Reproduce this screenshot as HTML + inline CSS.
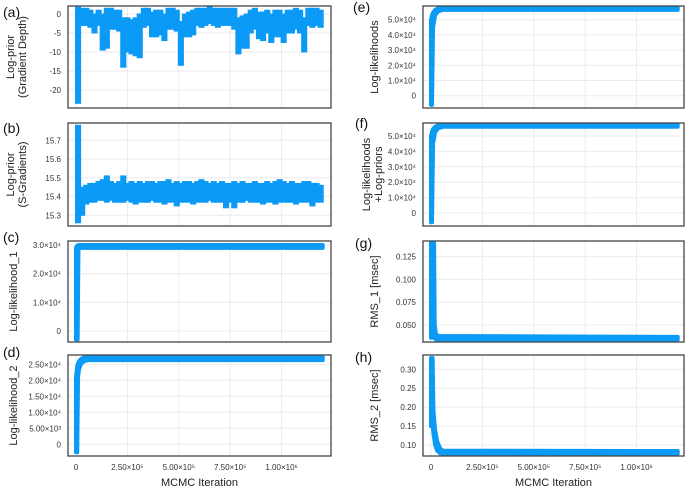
<!DOCTYPE html>
<html><head><meta charset="utf-8"><style>
html,body{margin:0;padding:0;background:#fff;width:685px;height:488px;overflow:hidden}
svg{display:block;font-family:"Liberation Sans","DejaVu Sans",sans-serif}
</style></head><body>
<svg id="fig" width="685" height="488" viewBox="0 0 685 488" xmlns="http://www.w3.org/2000/svg"></svg>
<script>
// ---- data ----
const xTickVals = [0, 250000, 500000, 750000, 1000000];
const xTickLabels = ["0", "2.50×10⁵", "5.00×10⁵", "7.50×10⁵", "1.00×10⁶"];
const binWidth = 20000;
const aLo = [-23.5,-3,-3,-3.5,-5,-3,-9.5,-9,-4,-4,-4.5,-14,-10,-10.5,-11,-11.5,-3.5,-3,-6,-6,-5.5,-7,-4,-4,-4.5,-13.5,-6,-6,-5.5,-3,-3.5,-3,-2.5,-3,-3.5,-3,-3,-3,-4,-10.5,-9,-9,-5,-4,-6.5,-7,-5,-7.5,-6,-6,-7.5,-5,-5,-4,-5,-10,-3,-3.5,-3,-3.5];
const aHi = [1.8,1.5,1.5,1,0,1,0,1.5,1.5,1,1,-1,-1,-1.5,-1,0,1.5,1.5,0.5,1,1,0,1.5,1.5,1,-2,0,0.5,1,1.5,1.5,1.5,2,1.5,1.5,1.5,1.5,1.5,1.5,-1,-0.5,0,1,1.5,0.5,0.5,1,0,1,1,0,1,1,1.5,1,-1,1.5,1.5,1.5,1];
const bLo = [15.26,15.30,15.36,15.37,15.37,15.38,15.38,15.37,15.38,15.37,15.37,15.37,15.38,15.37,15.36,15.37,15.37,15.37,15.38,15.37,15.37,15.36,15.37,15.37,15.35,15.37,15.37,15.37,15.36,15.37,15.37,15.37,15.38,15.37,15.37,15.37,15.34,15.37,15.34,15.37,15.37,15.38,15.37,15.37,15.37,15.36,15.37,15.37,15.36,15.37,15.37,15.37,15.37,15.36,15.37,15.37,15.37,15.35,15.37,15.37];
const bHi = [15.78,15.45,15.46,15.47,15.47,15.48,15.49,15.51,15.48,15.47,15.48,15.51,15.47,15.48,15.47,15.48,15.47,15.48,15.48,15.47,15.48,15.48,15.49,15.47,15.48,15.47,15.48,15.48,15.47,15.48,15.49,15.48,15.47,15.48,15.47,15.48,15.47,15.47,15.48,15.47,15.48,15.47,15.47,15.48,15.47,15.47,15.48,15.47,15.48,15.49,15.48,15.47,15.48,15.47,15.47,15.48,15.48,15.47,15.47,15.46];
const cIter = [0,4000,8000,12000,20000,1200000];
const cHi = [29000,29600,29800,30000,30000,30000];
const cLo = [-3000,-3000,-3000,28800,29000,29000];
const dIter = [0,6000,10000,15000,25000,40000,60000,1200000];
const dHi = [21000,24500,25300,26000,26700,27200,27300,27300];
const dLo = [-2500,-2500,21000,23500,25200,26000,26300,26300];
const eIter = [0,5000,10000,20000,35000,60000,1200000];
const eHi = [50000,53000,54500,56500,57500,58000,58000];
const eLo = [-6000,-6000,45000,53000,55500,56500,56500];
const fIter = [0,5000,10000,20000,35000,60000,1200000];
const fHi = [50000,53000,54500,56000,57000,57500,57500];
const fLo = [-6000,-6000,45000,52500,55000,56000,56000];
const gIter = [0,15000,18000,25000,40000,1200000];
const gHi = [0.14,0.14,0.05,0.039,0.038,0.037];
const gLo = [0.036,0.036,0.036,0.034,0.034,0.034];
const hIter = [0,8000,12000,20000,30000,45000,60000,1200000];
const hHi = [0.33,0.33,0.19,0.14,0.11,0.09,0.085,0.084];
const hLo = [0.15,0.15,0.13,0.10,0.085,0.078,0.077,0.077];
const aTicks=[0,-5,-10,-15,-20], aTickLabels=["0","-5","-10","-15","-20"];
const bTicks=[15.7,15.6,15.5,15.4,15.3], bTickLabels=["15.7","15.6","15.5","15.4","15.3"];
const cTicks=[30000,20000,10000,0], cTickLabels=["3.0×10⁴","2.0×10⁴","1.0×10⁴","0"];
const dTicks=[25000,20000,15000,10000,5000,0], dTickLabels=["2.50×10⁴","2.00×10⁴","1.50×10⁴","1.00×10⁴","5.00×10³","0"];
const eTicks=[50000,40000,30000,20000,10000,0], eTickLabels=["5.0×10⁴","4.0×10⁴","3.0×10⁴","2.0×10⁴","1.0×10⁴","0"];
const gTicks=[0.125,0.1,0.075,0.05], gTickLabels=["0.125","0.100","0.075","0.050"];
const hTicks=[0.3,0.25,0.2,0.15,0.1], hTickLabels=["0.30","0.25","0.20","0.15","0.10"];

const NS="http://www.w3.org/2000/svg";
const svg=document.getElementById('fig');
const BLUE="#0b9af5";
function mk(tag,attrs,parent){const e=document.createElementNS(NS,tag);for(const k in attrs)e.setAttribute(k,attrs[k]);(parent||svg).appendChild(e);return e;}

const panels=[
 {id:'a',side:'L',top:6,bot:108,v1:0,y1:14,v2:-20,y2:90,ticks:aTicks,labels:aTickLabels,title:["Log-prior","(Gradient Depth)"],lab:[3,17]},
 {id:'b',side:'L',top:123,bot:226,v1:15.7,y1:140.3,v2:15.3,y2:215.3,ticks:bTicks,labels:bTickLabels,title:["Log-prior","(S-Gradients)"],lab:[3,133]},
 {id:'c',side:'L',top:241,bot:342,v1:30000,y1:245,v2:0,y2:331,ticks:cTicks,labels:cTickLabels,title:["Log-likelihood_1"],lab:[3,242],iter:cIter,hi:cHi,lo:cLo},
 {id:'d',side:'L',top:355,bot:456,v1:25000,y1:364.3,v2:0,y2:444.3,ticks:dTicks,labels:dTickLabels,title:["Log-likelihood_2"],lab:[3,357],iter:dIter,hi:dHi,lo:dLo,xlab:true},
 {id:'e',side:'R',top:6,bot:108,v1:50000,y1:19.7,v2:0,y2:95.7,ticks:eTicks,labels:eTickLabels,title:["Log-likelihoods"],lab:[353,12],iter:eIter,hi:eHi,lo:eLo},
 {id:'f',side:'R',top:123,bot:226,v1:50000,y1:136,v2:0,y2:213,ticks:eTicks,labels:eTickLabels,title:["Log-likelihoods","+Log-priors"],lab:[355,128],iter:fIter,hi:fHi,lo:fLo},
 {id:'g',side:'R',top:241,bot:342,v1:0.125,y1:256.6,v2:0.05,y2:325,ticks:gTicks,labels:gTickLabels,title:["RMS_1 [msec]"],lab:[355,248],iter:gIter,hi:gHi,lo:gLo},
 {id:'h',side:'R',top:355,bot:456,v1:0.3,y1:369.3,v2:0.1,y2:445,ticks:hTicks,labels:hTickLabels,title:["RMS_2 [msec]"],lab:[355,362],iter:hIter,hi:hHi,lo:hLo,xlab:true},
];

panels.forEach(p=>{
  const L = p.side==='L' ? 68 : 423, R = p.side==='L' ? 331 : 684;
  const x0 = p.side==='L' ? 76 : 431, xk = 51.4/250000;
  const X = v => x0 + v*xk;
  const Y = v => p.y1 + (v-p.v1)*(p.y2-p.y1)/(p.v2-p.v1);
  const g=mk('g',{});
  
  
  xTickVals.forEach(v=>{const l=mk('line',{x1:X(v),x2:X(v),y1:p.top,y2:p.bot,stroke:'#ebebeb','stroke-width':1},g);
    });
  p.ticks.forEach((v,i)=>{
    const l=mk('line',{x1:L,x2:R,y1:Y(v),y2:Y(v),stroke:'#ebebeb','stroke-width':1},g);
    
    const t=mk('text',{x:L-7,y:Y(v)+3,'text-anchor':'end','font-size':8,fill:'#333'},g);
    t.textContent=p.labels[i];
    
  });
  const dg=mk('g',{fill:BLUE,stroke:BLUE},g);
  
  if(p.id==='a'||p.id==='b'){
    const lo=p.id==='a'?aLo:bLo, hi=p.id==='a'?aHi:bHi;
    lo.forEach((v,i)=>{
      const xa=X(i*binWidth)-0.5, xb=X((i+1)*binWidth)+0.5;
      const r=mk('rect',{x:xa,y:Y(hi[i]),width:xb-xa,height:Math.max(1,Y(v)-Y(hi[i])),'stroke-width':1},dg);
      
    });
  } else {
    let pts=[];
    p.iter.forEach((it,i)=>pts.push(X(it)+','+Y(p.hi[i])));
    for(let i=p.iter.length-1;i>=0;i--)pts.push(X(p.iter[i])+','+Y(p.lo[i]));
    const pg=mk('polygon',{points:pts.join(' '),'stroke-width':4,'stroke-linejoin':'round'},dg);
    
  }
  const fr=mk('rect',{x:L,y:p.top,width:R-L,height:p.bot-p.top,fill:'none',stroke:'#444','stroke-width':1.3},g);
  
  const pl=mk('text',{x:p.lab[0],y:p.lab[1],'font-size':14,fill:'#111'},g);
  pl.textContent='('+p.id+')';
  
  const cy=(p.top+p.bot)/2, tx = p.side==='L' ? (p.title.length>1?20:17) : (p.title.length>1?376:378);
  p.title.forEach((s,k)=>{
    const xx = tx + (k - (p.title.length-1)/2)*12;
    const t=mk('text',{x:xx,y:cy,'text-anchor':'middle','font-size':11,fill:'#222',transform:`rotate(-90 ${xx} ${cy})`},g);
    t.textContent=s;
    
  });
  if(p.xlab){
    xTickVals.forEach((v,i)=>{
      const t=mk('text',{x:X(v),y:470,'text-anchor':'middle','font-size':8,fill:'#333'},g);
      t.textContent=xTickLabels[i];
      
    });
    const xt=mk('text',{x:(L+R)/2,y:486,'text-anchor':'middle','font-size':11,fill:'#222'},g);
    xt.textContent='MCMC Iteration';
    
  }
});
</script>
</body></html>
